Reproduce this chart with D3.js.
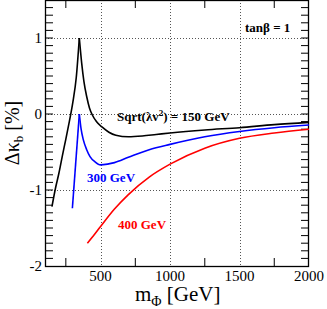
<!DOCTYPE html>
<html>
<head>
<meta charset="utf-8">
<script src="https://cdn.jsdelivr.net/npm/d3@7"></script>
<style>
  body { margin: 0; background: #fff; }
  svg { display: block; font-family: "Liberation Serif", "DejaVu Serif", serif; }
</style>
</head>
<body>
<div id="chart"></div>
<script>
// m_Phi [GeV] vs delta kappa_b [%], each curve split at the 2 m_t cusp
const black150Rise = [[150, -1.22], [175, -0.98], [200, -0.78], [225, -0.55], [250, -0.33], [275, -0.1], [300, 0.15], [325, 0.48], [347, 1.0]];
const black150Fall = [[347, 1.0], [364, 0.67], [380, 0.43], [400, 0.23], [420, 0.08], [440, -0.01], [470, -0.1], [510, -0.17], [560, -0.24], [610, -0.28], [700, -0.30], [800, -0.29], [900, -0.27], [1000, -0.25], [1250, -0.21], [1500, -0.18], [1750, -0.14], [2000, -0.11]];
const blue300Rise = [[297, -1.24], [347, 0.0]];
const blue300Fall = [[347, 0.0], [360, -0.2], [376, -0.34], [400, -0.47], [424, -0.56], [460, -0.63], [500, -0.67], [550, -0.66], [600, -0.64], [700, -0.57], [850, -0.47], [1000, -0.40], [1250, -0.30], [1500, -0.23], [1750, -0.18], [2000, -0.145]];
const red400 = [[405, -1.70], [450, -1.60], [500, -1.48], [600, -1.25], [700, -1.06], [850, -0.83], [1000, -0.66], [1250, -0.45], [1500, -0.32], [1750, -0.25], [2000, -0.20]];

const xTicks = [500, 1000, 1500, 2000];
const xMinor = [250, 750, 1250, 1750];
const yTicks = [1, 0, -1, -2];

const W = 327, H = 309;
const plot = { left: 45, right: 309, top: 0, bottom: 266 };

const svg = d3.select("#chart").append("svg")
    .attr("width", W)
    .attr("height", H);

const x = d3.scaleLinear().domain([100, 2000]).range([plot.left, plot.right]);
const y = d3.scaleLinear().domain([-2, 1.5]).range([plot.bottom, plot.top]);

// grid
const grid = svg.append("g")
    .attr("stroke", "#555")
    .attr("stroke-width", 1)
    .attr("stroke-dasharray", "1,2");
grid.selectAll(".gx").data([500, 1000, 1500]).enter().append("line")
    .attr("x1", d => Math.round(x(d)) + 0.5).attr("x2", d => Math.round(x(d)) + 0.5)
    .attr("y1", plot.top).attr("y2", plot.bottom);
grid.selectAll(".gy").data([1, 0, -1]).enter().append("line")
    .attr("y1", d => Math.round(y(d)) + 0.5).attr("y2", d => Math.round(y(d)) + 0.5)
    .attr("x1", plot.left).attr("x2", plot.right);

// minor ticks
const ticks = svg.append("g").attr("stroke", "#000").attr("stroke-width", 1);
const yMinor = d3.range(-19, 15).map(i => i / 10);
ticks.selectAll(".yl").data(yMinor).enter().append("line")
    .attr("x1", plot.left).attr("x2", plot.left + 8)
    .attr("y1", d => y(d)).attr("y2", d => y(d));
ticks.selectAll(".yr").data(yMinor).enter().append("line")
    .attr("x1", plot.right - 8).attr("x2", plot.right)
    .attr("y1", d => y(d)).attr("y2", d => y(d));
ticks.selectAll(".xb").data(xMinor).enter().append("line")
    .attr("x1", d => x(d)).attr("x2", d => x(d))
    .attr("y1", plot.bottom - 8).attr("y2", plot.bottom);
ticks.selectAll(".xt").data(xMinor).enter().append("line")
    .attr("x1", d => x(d)).attr("x2", d => x(d))
    .attr("y1", plot.top).attr("y2", plot.top + 8);

// frame
svg.append("rect")
    .attr("x", plot.left + 0.5).attr("y", plot.top + 0.5)
    .attr("width", plot.right - plot.left - 1).attr("height", plot.bottom - plot.top)
    .attr("fill", "none").attr("stroke", "#000").attr("stroke-width", 1.3);

// tick labels
svg.selectAll(".xl").data(xTicks).enter().append("text")
    .attr("x", d => x(d)).attr("y", 281)
    .attr("text-anchor", "middle")
    .attr("font-size", 15)
    .text(d => d);
svg.selectAll(".ylab").data(yTicks).enter().append("text")
    .attr("x", 42).attr("y", d => y(d) + 5)
    .attr("text-anchor", "end")
    .attr("font-size", 15)
    .text(d => d);

// axis titles
const xt = svg.append("text").attr("x", 135).attr("y", 301).attr("font-size", 21);
xt.append("tspan").text("m");
xt.append("tspan").attr("font-size", 14).attr("dy", 5).text("Φ");
xt.append("tspan").attr("dy", -5).text(" [GeV]");

const yt = svg.append("text")
    .attr("transform", `translate(19,${(plot.top + plot.bottom) / 2}) rotate(-90)`)
    .attr("text-anchor", "middle")
    .attr("font-size", 20);
yt.append("tspan").text("Δκ");
yt.append("tspan").attr("font-size", 13).attr("dy", 4).text("b");
yt.append("tspan").attr("dy", -4).text(" [%]");

// curves
const line = d3.line().x(d => x(d[0])).y(d => y(d[1])).curve(d3.curveMonotoneX);
const curves = [
    { data: black150Rise, color: "#000" },
    { data: black150Fall, color: "#000" },
    { data: blue300Rise, color: "#0000ff" },
    { data: blue300Fall, color: "#0000ff" },
    { data: red400, color: "#ff0000" }
];
svg.selectAll(".curve").data(curves).enter().append("path")
    .attr("d", d => line(d.data))
    .attr("fill", "none")
    .attr("stroke", d => d.color)
    .attr("stroke-width", 1.6);

// annotations
const lab = svg.append("g").attr("font-weight", "bold").attr("font-size", 13);
lab.append("text").attr("x", 245).attr("y", 32).text("tanβ = 1");
const sq = lab.append("text").attr("x", 117).attr("y", 121);
sq.append("tspan").text("Sqrt(λv");
sq.append("tspan").attr("font-size", 9).attr("dy", -5).text("2");
sq.append("tspan").attr("dy", 5).text(") = 150 GeV");
lab.append("text").attr("x", 87).attr("y", 182).attr("fill", "#0000ff").text("300 GeV");
lab.append("text").attr("x", 118).attr("y", 229).attr("fill", "#ff0000").text("400 GeV");
</script>
</body>
</html>
